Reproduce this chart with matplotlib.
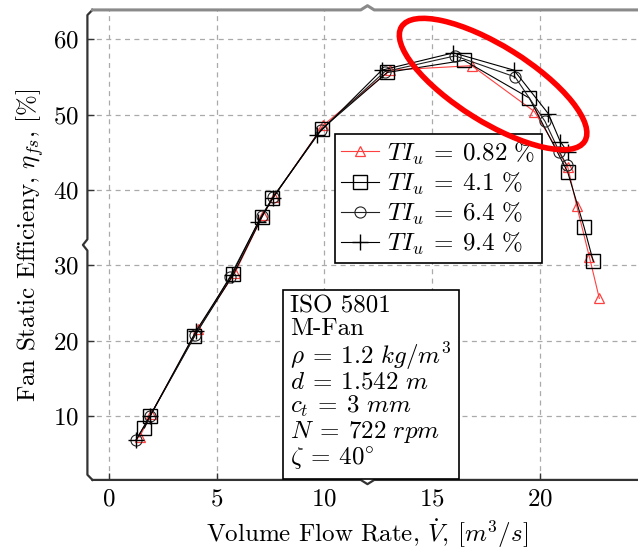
import matplotlib
matplotlib.use('Agg')
import matplotlib.pyplot as plt
from matplotlib.patches import Ellipse
from matplotlib.lines import Line2D
import matplotlib.transforms as transforms

plt.rcParams['font.family'] = ['cmr10', 'DejaVu Serif']
plt.rcParams['mathtext.fontset'] = 'cm'
plt.rcParams['axes.formatter.use_mathtext'] = True
plt.rcParams['font.size'] = 18

# TI_u = 0.82 %
q_082 = [1.42, 1.95, 4.13, 5.85, 7.15, 7.65, 9.95, 13.05, 16.84, 19.75, 21.3, 21.71, 22.3, 22.76]
eta_082 = [7.2, 10.2, 21.6, 29.0, 36.7, 39.1, 48.6, 55.9, 56.5, 50.4, 43.0, 37.9, 31.1, 25.6]
# TI_u = 4.1 %
q_41 = [1.65, 1.91, 3.97, 5.78, 7.1, 7.59, 9.88, 12.92, 16.48, 19.51, 21.29, 22.05, 22.48]
eta_41 = [8.4, 10.0, 20.6, 28.8, 36.4, 38.9, 48.1, 55.6, 57.2, 52.2, 42.4, 35.1, 30.5]
# TI_u = 6.4 %
q_64 = [1.26, 1.91, 4.0, 5.62, 7.1, 7.6, 9.85, 12.8, 16.07, 18.85, 20.24, 20.9, 21.25]
eta_64 = [6.8, 10.0, 20.7, 28.5, 36.6, 39.0, 48.0, 55.7, 57.8, 55.0, 49.1, 45.1, 43.3]
# TI_u = 9.4 %
q_94 = [1.26, 1.91, 4.05, 5.7, 6.94, 7.6, 9.65, 12.66, 15.99, 18.8, 20.4, 20.95, 21.3]
eta_94 = [6.8, 10.0, 21.3, 28.7, 35.8, 38.9, 47.3, 55.9, 58.2, 55.9, 50.1, 46.4, 45.0]

labels = [r'$TI_u\:=\:0.82\ \%$', r'$TI_u\:=\:4.1\ \%$', r'$TI_u\:=\:6.4\ \%$', r'$TI_u\:=\:9.4\ \%$']
info = ['ISO 5801', 'M-Fan', r'$\rho\:=\:1.2\ kg/m^3$', r'$d\:=\:1.542\ m$',
        r'$c_t\:=\:3\ mm$', r'$N\:=\:722\ rpm$', r'$\zeta\:=\:40^{\circ}$']

fig = plt.figure(figsize=(6.38, 5.51), dpi=100)
ax = fig.add_axes([0.137, 0.129, 0.878, 0.853])

ax.plot(q_082, eta_082, color='#ff4040', lw=0.8, marker='^', ms=7, mfc='none', mew=0.9, label=labels[0], zorder=3)
ax.plot(q_41, eta_41, color='black', lw=0.8, marker='s', ms=10, mfc='none', mew=1.0, label=labels[1], zorder=4)
ax.plot(q_64, eta_64, color='#222222', lw=0.8, marker='o', ms=8, mfc='none', mew=0.8, label=labels[2], zorder=4)
ax.plot(q_94, eta_94, color='black', lw=0.8, marker='+', ms=11, mew=1.0, label=labels[3], zorder=4)

ax.set_xlim(-1, 25)
ax.set_ylim(1.5, 63.9)
ax.set_xticks([0, 5, 10, 15, 20])
ax.set_yticks([10, 20, 30, 40, 50, 60])
ax.grid(True, color='#aaaaaa', lw=0.9, linestyle=(0, (4, 3.5)))
ax.tick_params(direction='in', length=5, width=1, color='#333333', pad=6)
ax.set_xlabel(r'Volume Flow Rate, $\dot{V}$, $[m^3/s]$', labelpad=5)
ax.set_ylabel(r'Fan Static Efficieny, $\eta_{fs}$, [%]', labelpad=5)

for s in ax.spines.values():
    s.set_visible(False)

# brace style frame
r = 0.009
ry = 0.011
bx = 0.008
by = 0.009
left = [(r, 0), (0, ry), (0, 0.5 - 0.012), (-bx, 0.5), (0, 0.5 + 0.012), (0, 1 - ry), (r, 1)]
top = [(r, 1), (0.5 - 0.012, 1), (0.5, 1 + by), (0.5 + 0.012, 1), (1.05, 1)]
bottom = [(r, 0), (0.5 - 0.012, 0), (0.5, -by), (0.5 + 0.012, 0), (1.05, 0)]
for pts, col, w in [(left, '#333333', 1.6), (top, '#8a8a8a', 2.2), (bottom, '#333333', 1.6)]:
    ax.add_line(Line2D([p[0] for p in pts], [p[1] for p in pts], color=col, lw=w,
                       transform=ax.transAxes, clip_on=False, zorder=6))

leg = ax.legend(loc='upper left', bbox_to_anchor=(0.442, 0.736), fancybox=False,
                edgecolor='black', framealpha=1, handlelength=1.5, labelspacing=0.15,
                borderpad=0.25, handletextpad=0.35, borderaxespad=0)
leg.get_frame().set_linewidth(1.2)
leg.set_zorder(7)

ax.text(0.362, 0.392, '\n'.join(info), transform=ax.transAxes, va='top', ha='left',
        linespacing=1.0, zorder=7,
        bbox=dict(boxstyle='square,pad=0.3', fc='white', ec='black', lw=1.2))

# red ellipse around the peak region
trans = fig.dpi_scale_trans + transforms.ScaledTranslation(17.83, 54.06, ax.transData)
ell = Ellipse((0, 0), 2.16, 0.76, angle=-32, transform=trans, fill=False,
              ec='#ff0000', lw=4, zorder=8, clip_on=False)
ax.add_patch(ell)

plt.savefig('out.png', dpi=100)
